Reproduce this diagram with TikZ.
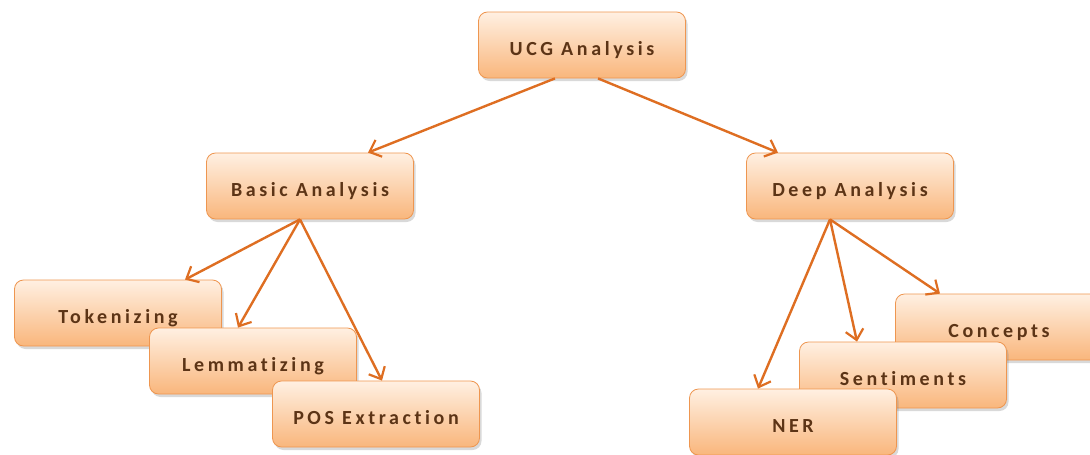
\documentclass[tikz,border=0pt]{standalone}
\usepackage{fontspec}
\setmainfont{Carlito}
\usetikzlibrary{arrows.meta,shadows}
\definecolor{boxline}{RGB}{238,150,80}
\definecolor{boxtop}{RGB}{255,240,226}
\definecolor{boxbot}{RGB}{249,182,124}
\definecolor{arrowcol}{RGB}{222,110,34}
\definecolor{txtcol}{RGB}{92,52,22}
\tikzset{>={Straight Barb[length=10pt,width=18pt,line width=2.2pt]}}
\tikzset{
  task/.style={draw=boxline, line width=0.8pt, rounded corners=9pt,
    top color=boxtop, bottom color=boxbot,
    minimum width=207pt, minimum height=66pt, text height=20pt, text depth=0pt,
    drop shadow={opacity=0.3, shadow xshift=2pt, shadow yshift=-3pt},
    text=txtcol, font=\fontsize{20}{23}\selectfont\bfseries\addfontfeature{LetterSpace=18,Ligatures=NoCommon}},
  link/.style={->, draw=arrowcol, line width=2.4pt}
}

\begin{document}
\begin{tikzpicture}[x=1pt,y=-1pt]
  \useasboundingbox (0,0) rectangle (1090,455);
  % top level
  \node[task] (ucg) at (582,45) {UCG Analysis};
  \node[task] (basic) at (310,186) {Basic Analysis};
  \node[task] (deep) at (850,186) {Deep Analysis};
  % basic analysis steps
  \node[task] (tok) at (118,313) {Tokenizing};
  \node[task] (lem) at (253,361) {Lemmatizing};
  \node[task] (pos) at (376,414) {POS Extraction};
  % deep analysis steps
  \node[task] (con) at (999,327) {Concepts};
  \node[task] (sent) at (903,375) {Sentiments};
  \node[task] (ner) at (793,422) {NER};
  % arrows
  \draw[link] ([xshift=-27pt]ucg.south) -- ([xshift=58pt]basic.north);
  \draw[link] ([xshift=16pt]ucg.south) -- ([xshift=-72pt]deep.north);
  \draw[link] ([xshift=-10pt]basic.south) -- ([xshift=67pt]tok.north);
  \draw[link] ([xshift=-10pt]basic.south) -- ([xshift=-15pt]lem.north);
  \draw[link] ([xshift=-10pt]basic.south) -- ([xshift=6pt]pos.north);
  \draw[link] ([xshift=-20pt]deep.south) -- ([xshift=-35pt]ner.north);
  \draw[link] ([xshift=-20pt]deep.south) -- ([xshift=-46pt]sent.north);
  \draw[link] ([xshift=-20pt]deep.south) -- ([xshift=-59pt]con.north);
\end{tikzpicture}
\end{document}
